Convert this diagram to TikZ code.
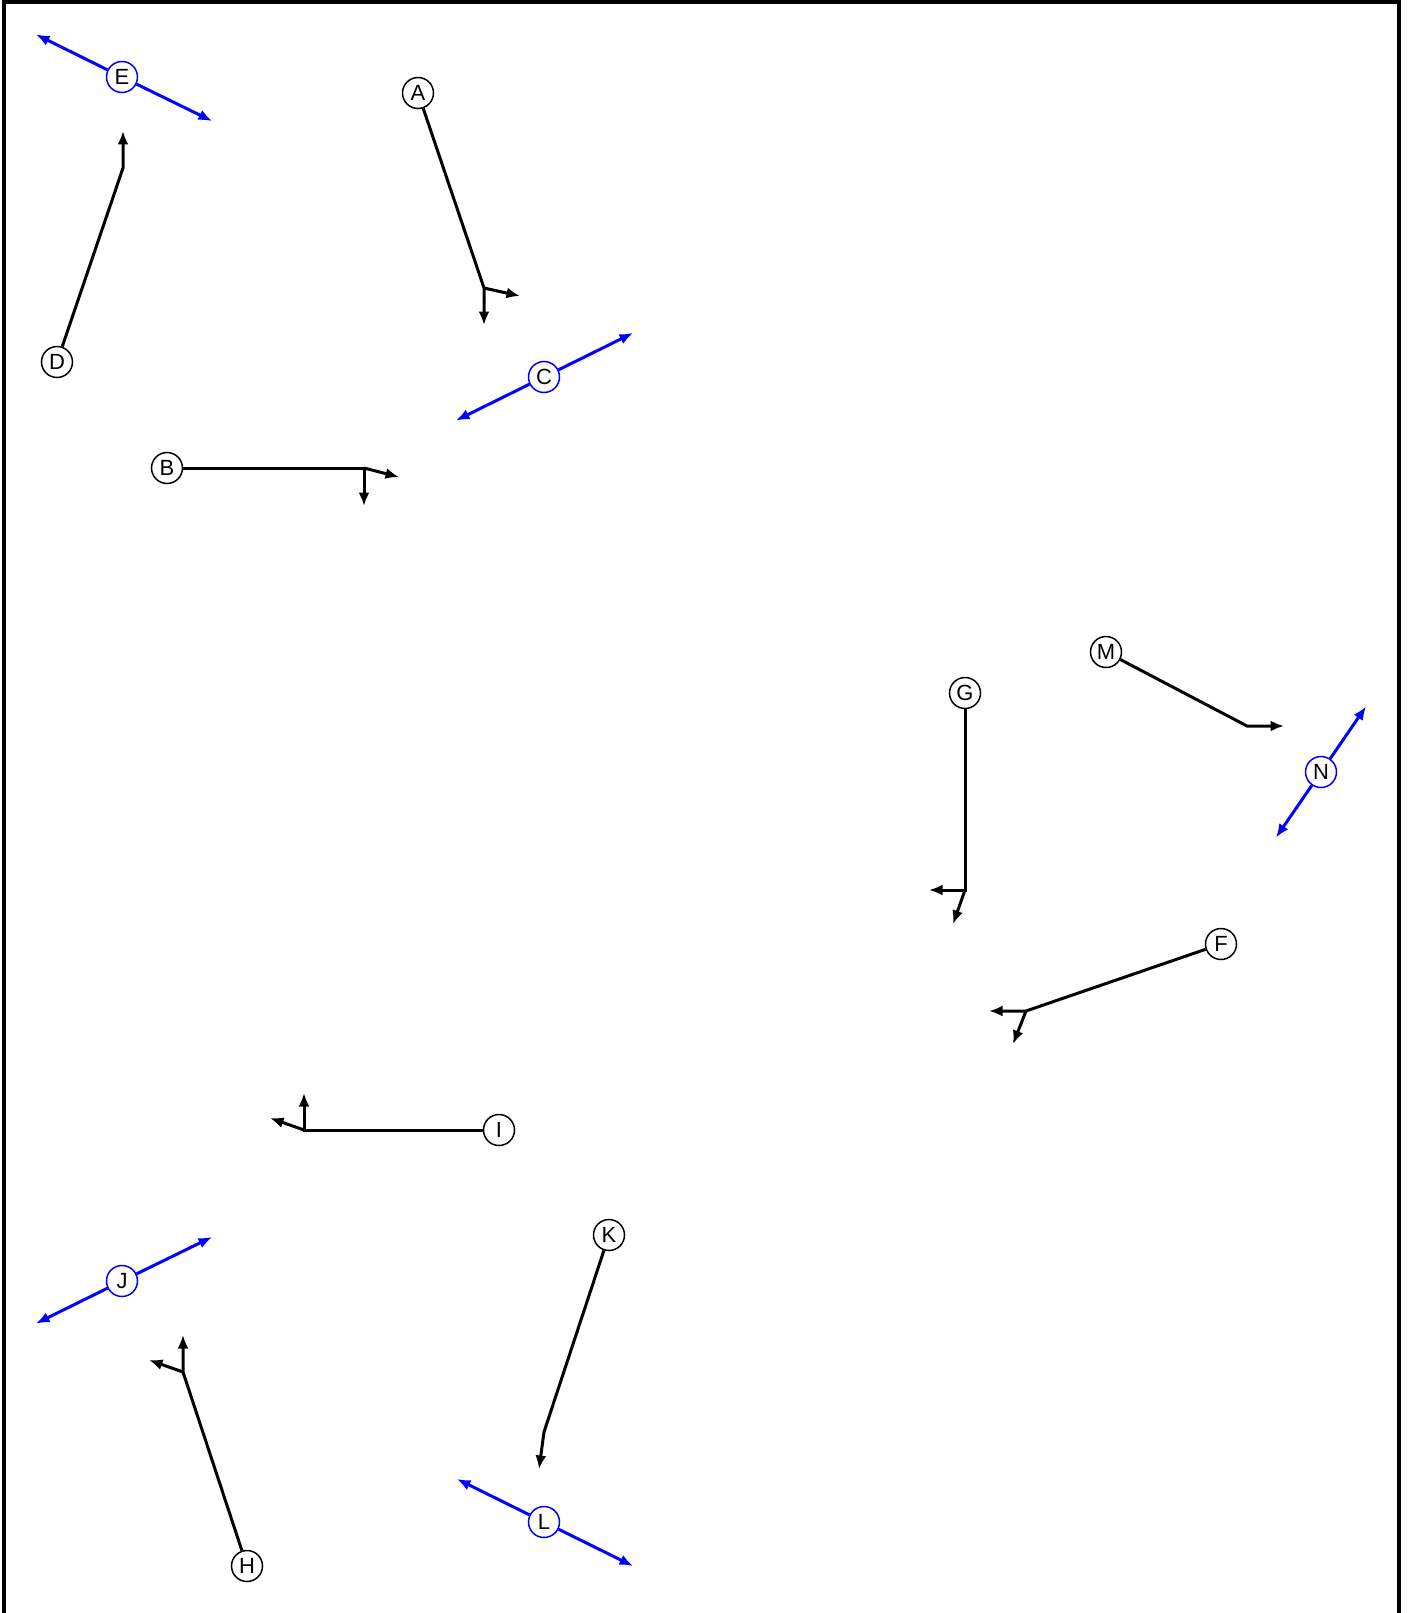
\documentclass[tikz,border=0pt]{standalone}
\usepackage{fontspec}
\setmainfont{Liberation Sans}
\usetikzlibrary{arrows.meta}
\definecolor{pureblue}{HTML}{0000FF}

\begin{document}
\begin{tikzpicture}[x=0.2mm,y=-0.2mm,>={Latex[length=2.7mm,width=2.2mm]},
            pt/.style={circle,draw,fill=white,line width=0.3mm,inner sep=0pt,
                       minimum size=6.2mm,font=\fontsize{12.5}{14}\selectfont},
            bpt/.style={pt,draw=pureblue},
            link/.style={line width=0.6mm},
            blink/.style={link,pureblue}]
          \useasboundingbox (0,0) rectangle (1407,1613);
          \draw[line width=0.9mm] (4,1650) -- (4,2) -- (1399,2) -- (1399,1650);
          \node[bpt] (E) at (122,77) {E};
          \node[pt] (A) at (418,93) {A};
          \node[pt] (D) at (57,362) {D};
          \node[bpt] (C) at (544,377) {C};
          \node[pt] (B) at (167,468) {B};
          \node[pt] (M) at (1106,652) {M};
          \node[pt] (G) at (965,693) {G};
          \node[bpt] (N) at (1321,772) {N};
          \node[pt] (F) at (1221,944) {F};
          \node[pt] (I) at (499,1130) {I};
          \node[pt] (K) at (609,1235) {K};
          \node[bpt] (J) at (122,1281) {J};
          \node[bpt] (L) at (544,1522) {L};
          \node[pt] (H) at (247,1566) {H};
          \coordinate (e1) at (36,34.5);  \coordinate (e2) at (212,121);
          \coordinate (a0) at (484,288); \coordinate (a1) at (484,325); \coordinate (a2) at (520,296);
          \coordinate (d0) at (123,168); \coordinate (d1) at (123,131);
          \coordinate (c1) at (456,420.5); \coordinate (c2) at (633,333);
          \coordinate (b0) at (364,468); \coordinate (b1) at (364,506); \coordinate (b2) at (399,477);
          \coordinate (m0) at (1247,726); \coordinate (m1) at (1284,726);
          \coordinate (n1) at (1276,837.5); \coordinate (n2) at (1366,706.5);
          \coordinate (g0) at (965,890); \coordinate (g1) at (929,890); \coordinate (g2) at (953,924);
          \coordinate (f0) at (1026,1011); \coordinate (f1) at (989,1011); \coordinate (f2) at (1013,1044);
          \coordinate (i0) at (304,1130); \coordinate (i1) at (304,1093); \coordinate (i2) at (270,1118);
          \coordinate (j1) at (36,1323.5); \coordinate (j2) at (212,1237);
          \coordinate (h0) at (183,1372); \coordinate (h1) at (183,1335); \coordinate (h2) at (149,1360);
          \coordinate (k0) at (544,1432); \coordinate (k1) at (539,1469);
          \coordinate (l1) at (457,1479); \coordinate (l2) at (633,1566);
          \draw[->,blink] (E) -- (e1);
          \draw[->,blink] (E) -- (e2);
          \draw[->,link] (A) -- (a0) -- (a1);
          \draw[->,link] (a0) -- (a2);
          \draw[->,link] (D) -- (d0) -- (d1);
          \draw[->,blink] (C) -- (c1);
          \draw[->,blink] (C) -- (c2);
          \draw[->,link] (B) -- (b0) -- (b1);
          \draw[->,link] (b0) -- (b2);
          \draw[->,link] (M) -- (m0) -- (m1);
          \draw[->,blink] (N) -- (n1);
          \draw[->,blink] (N) -- (n2);
          \draw[->,link] (G) -- (g0) -- (g1);
          \draw[->,link] (g0) -- (g2);
          \draw[->,link] (F) -- (f0) -- (f1);
          \draw[->,link] (f0) -- (f2);
          \draw[->,link] (I) -- (i0) -- (i1);
          \draw[->,link] (i0) -- (i2);
          \draw[->,blink] (J) -- (j1);
          \draw[->,blink] (J) -- (j2);
          \draw[->,link] (H) -- (h0) -- (h1);
          \draw[->,link] (h0) -- (h2);
          \draw[->,link] (K) -- (k0) -- (k1);
          \draw[->,blink] (L) -- (l1);
          \draw[->,blink] (L) -- (l2);
        \end{tikzpicture}
\end{document}
